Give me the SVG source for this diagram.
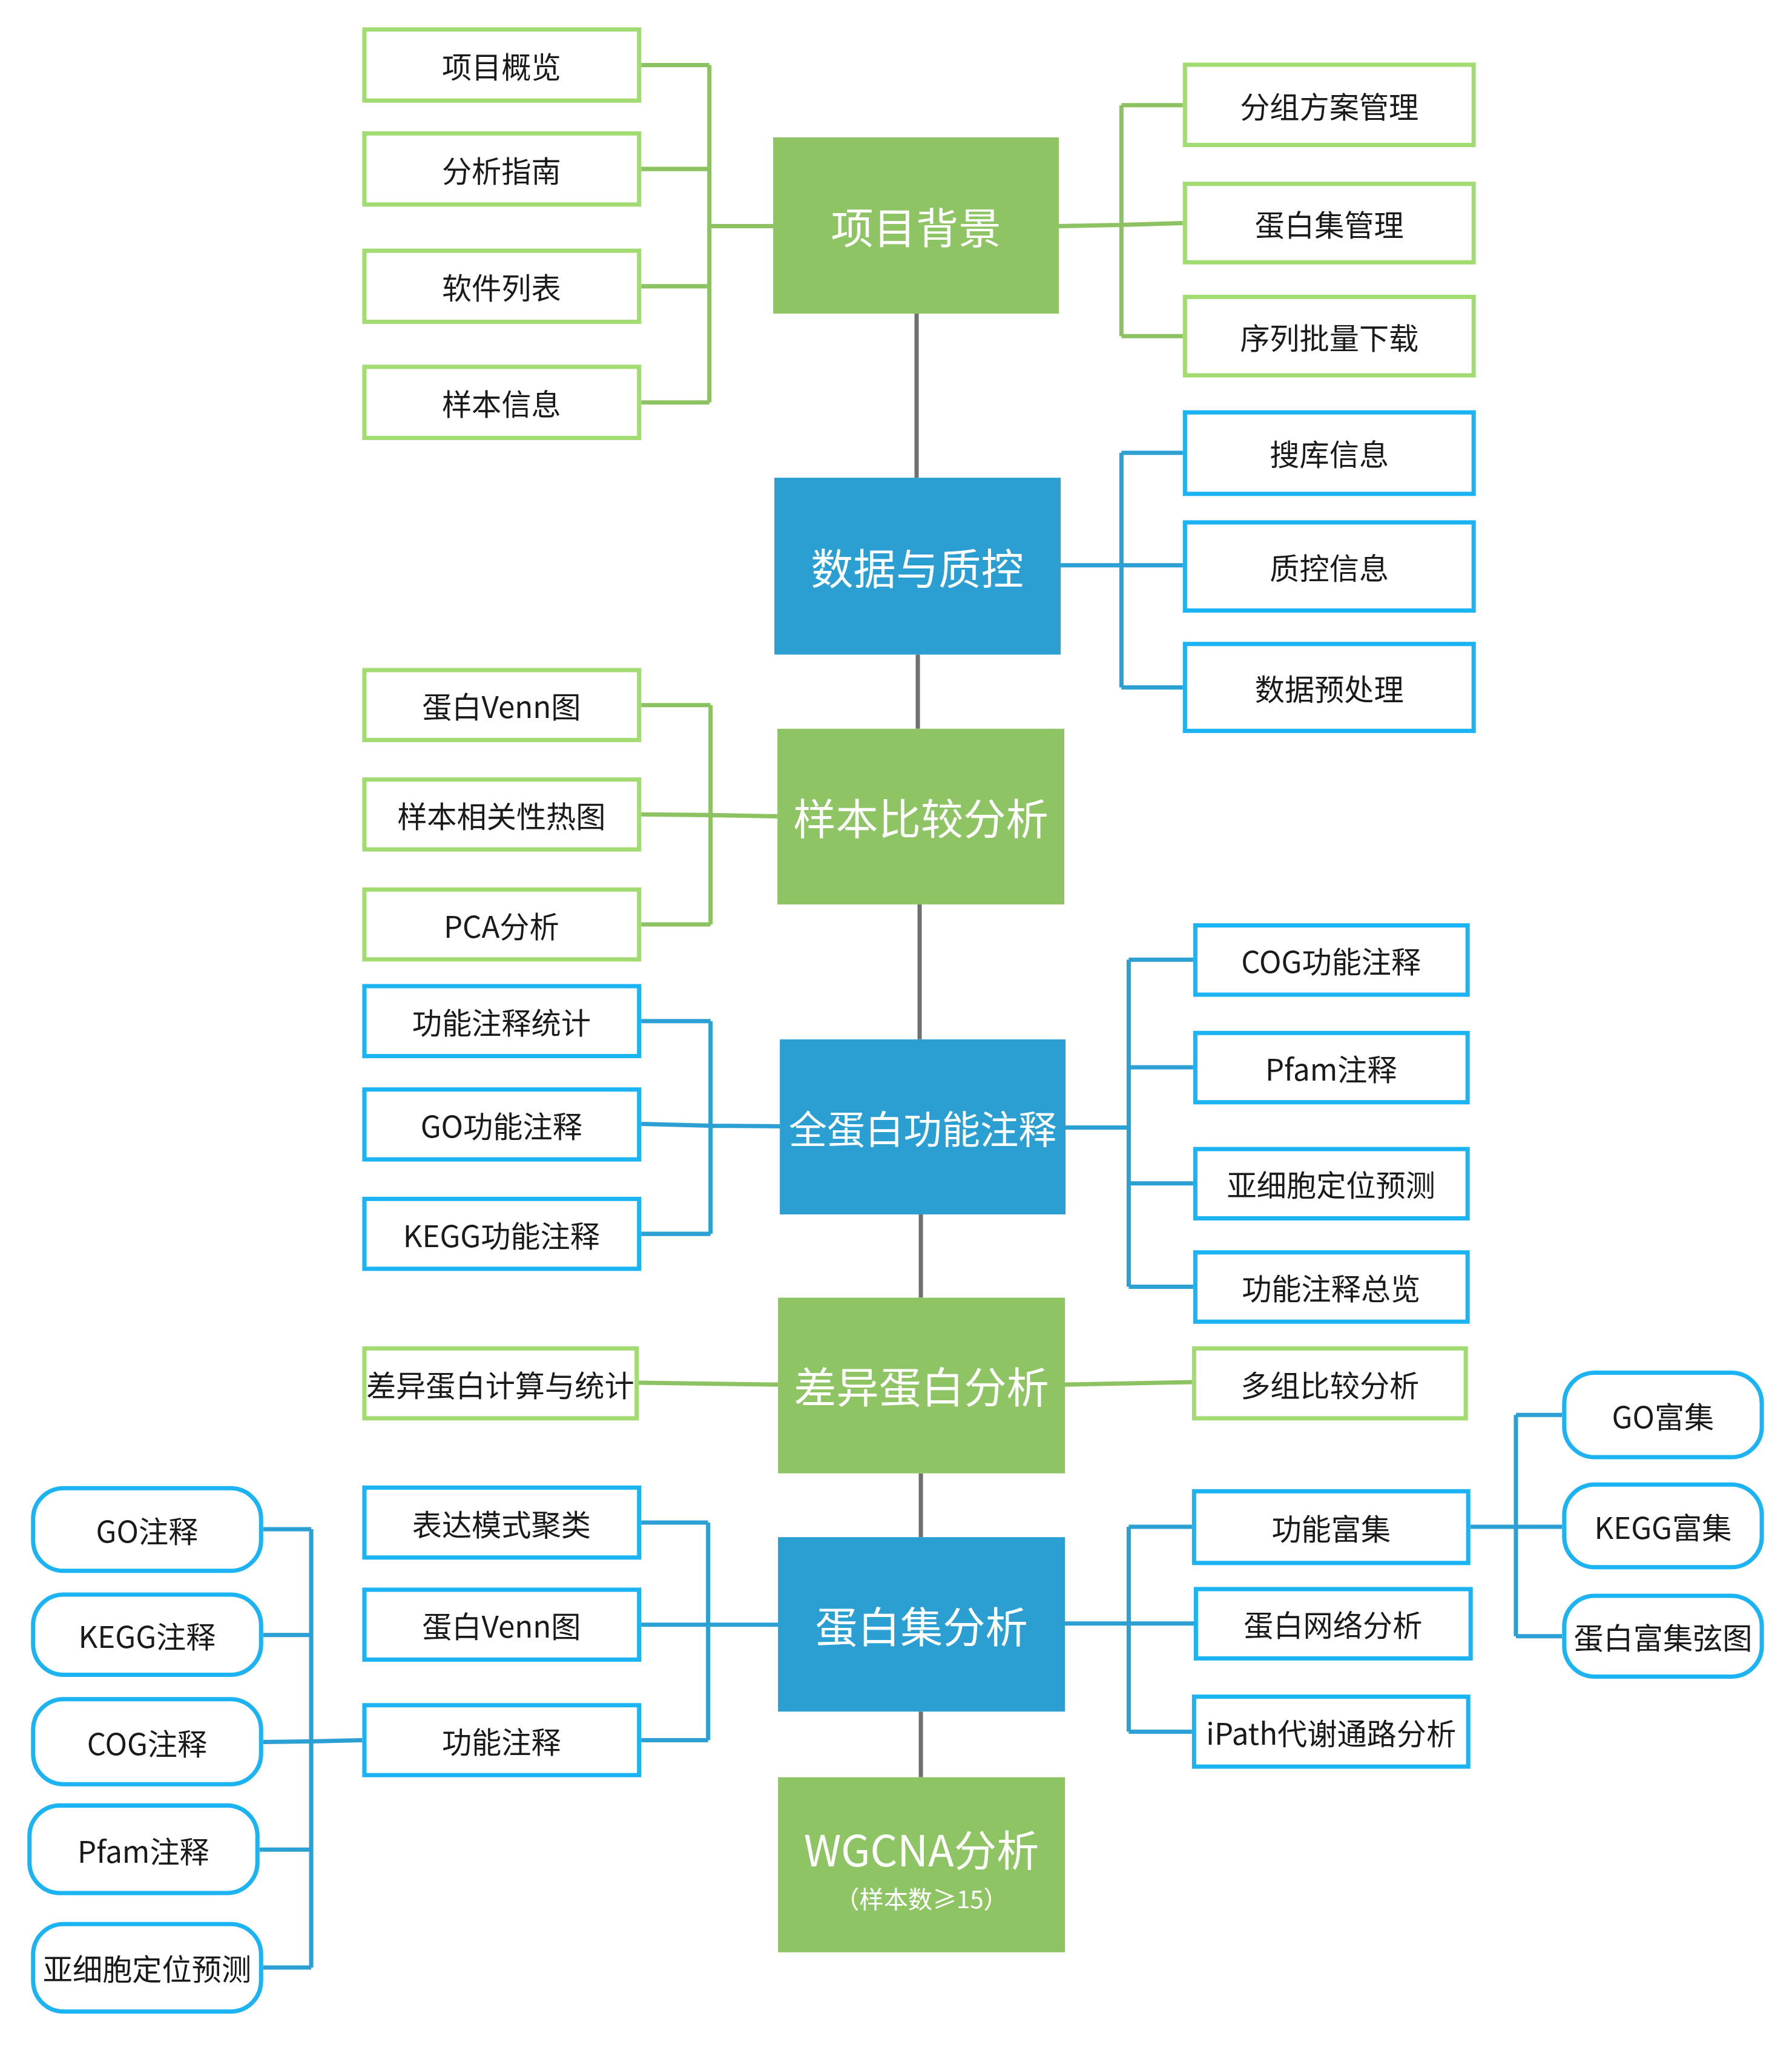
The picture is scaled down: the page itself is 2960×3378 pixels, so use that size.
<svg xmlns="http://www.w3.org/2000/svg" width="2960" height="3378" viewBox="0 0 2960 3378">
<style>
.gm{fill:#8EC463}
.bm{fill:#2B9FD2}
.gl{fill:#fff;stroke:#A3DB73;stroke-width:7}
.bl{fill:#fff;stroke:#1BB3F2;stroke-width:7}
.gc{fill:none;stroke:#8DC262;stroke-width:7}
.bc{fill:none;stroke:#2CA0D3;stroke-width:7}
.kc{fill:none;stroke:#707070;stroke-width:7}
text{font-family:"Noto Sans CJK SC","Noto Sans",sans-serif;text-anchor:middle;dominant-baseline:central}
.lt{font-size:49px;fill:#1a1a1a}
.mt{font-size:70px;fill:#fff}
</style>
<rect width="2960" height="3378" fill="#fff"/>
<g transform="scale(1.004)">
<g id="connectors">
<path class="kc" d="M1508 516V786M1510 1077V1199M1513 1488V1710M1515 1998V2135M1515 2424V2529M1515 2816V2924"/>
<path class="gc" d="M1055 107H1167M1055 278H1167M1055 471H1167M1055 662H1167M1167 107V662M1167 372H1274"/>
<path class="gc" d="M1742 372L1845 370L1946 367M1845 173V553M1845 173H1946M1845 553H1946"/>
<path class="bc" d="M1745 930H1946M1845 745V1131M1845 745H1946M1845 1131H1946"/>
<path class="gc" d="M1055 1160H1169M1055 1340L1169 1341L1279 1343M1055 1521H1169M1169 1160V1521"/>
<path class="bc" d="M1055 1849L1169 1852L1283 1853M1055 1680H1169M1055 2030H1169M1169 1680V2030"/>
<path class="bc" d="M1753 1855H1857M1857 1579V2117M1857 1579H1963M1857 1756H1963M1857 1947H1963M1857 2117H1963"/>
<path class="gc" d="M1051 2275L1280 2278M1752 2278L1961 2274"/>
<path class="bc" d="M1055 2505H1165M1055 2673H1280M1055 2863H1165M1165 2505V2863"/>
<path class="bc" d="M433 2516H512M433 2690H512M433 2866L512 2865L596 2863M427 3043H512M433 3237H512M512 2516V3237"/>
<path class="bc" d="M1752 2671H1967M1857 2512V2849M1857 2512H1961M1857 2849H1961"/>
<path class="bc" d="M2419 2512H2570M2494 2328V2692M2494 2328H2570M2494 2692H2570"/>
</g>
<g id="n-xmbj"><rect class="gm" x="1272" y="226" width="470" height="290"/><text class="mt" x="1507" y="371">项目背景</text></g>
<g id="n-sjzk"><rect class="bm" x="1274" y="786" width="471" height="291"/><text class="mt" x="1509" y="931">数据与质控</text></g>
<g id="n-ybbj"><rect class="gm" x="1279" y="1199" width="472" height="289"/><text class="mt" x="1515" y="1343">样本比较分析</text></g>
<g id="n-qdb"><rect class="bm" x="1283" y="1710" width="470" height="288"/><text class="mt" x="1518" y="1854" style="font-size:63px">全蛋白功能注释</text></g>
<g id="n-cy"><rect class="gm" x="1280" y="2135" width="472" height="289"/><text class="mt" x="1516" y="2278">差异蛋白分析</text></g>
<g id="n-dbj"><rect class="bm" x="1280" y="2529" width="472" height="287"/><text class="mt" x="1516" y="2672">蛋白集分析</text></g>
<g id="n-wgcna"><rect class="gm" x="1280" y="2924" width="472" height="288"/><text class="mt" x="1516" y="3040">WGCNA分析</text><text x="1516" y="3122" style="font-size:40px;fill:#fff">（样本数≥15）</text></g>

<g id="l-xmgl"><rect class="gl" x="599.5" y="48.5" width="452" height="117"/><text class="lt" x="825" y="107">项目概览</text></g>
<g id="l-fxzn"><rect class="gl" x="599.5" y="219.5" width="452" height="117"/><text class="lt" x="825" y="278">分析指南</text></g>
<g id="l-rjlb"><rect class="gl" x="599.5" y="412.5" width="452" height="117"/><text class="lt" x="825" y="471">软件列表</text></g>
<g id="l-ybxx"><rect class="gl" x="599.5" y="603.5" width="452" height="117"/><text class="lt" x="825" y="662">样本信息</text></g>

<g id="l-fzfa"><rect class="gl" x="1949.5" y="106.5" width="475" height="132"/><text class="lt" x="2187" y="173">分组方案管理</text></g>
<g id="l-dbjgl"><rect class="gl" x="1949.5" y="302.5" width="475" height="129"/><text class="lt" x="2187" y="367">蛋白集管理</text></g>
<g id="l-xlpl"><rect class="gl" x="1949.5" y="488.5" width="475" height="129"/><text class="lt" x="2187" y="553">序列批量下载</text></g>

<g id="l-skxx"><rect class="bl" x="1949.5" y="678.5" width="475" height="134"/><text class="lt" x="2187" y="745">搜库信息</text></g>
<g id="l-zkxx"><rect class="bl" x="1949.5" y="859.5" width="475" height="145"/><text class="lt" x="2187" y="932">质控信息</text></g>
<g id="l-sjycl"><rect class="bl" x="1949.5" y="1059.5" width="475" height="143"/><text class="lt" x="2187" y="1131">数据预处理</text></g>

<g id="l-venn1"><rect class="gl" x="599.5" y="1102.5" width="452" height="115"/><text class="lt" x="825" y="1160">蛋白Venn图</text></g>
<g id="l-xgx"><rect class="gl" x="599.5" y="1282.5" width="452" height="115"/><text class="lt" x="825" y="1340">样本相关性热图</text></g>
<g id="l-pca"><rect class="gl" x="599.5" y="1463.5" width="452" height="115"/><text class="lt" x="825" y="1521">PCA分析</text></g>

<g id="l-gntj"><rect class="bl" x="599.5" y="1622.5" width="452" height="115"/><text class="lt" x="825" y="1680">功能注释统计</text></g>
<g id="l-gogn"><rect class="bl" x="599.5" y="1792.5" width="452" height="115"/><text class="lt" x="825" y="1850">GO功能注释</text></g>
<g id="l-kegggn"><rect class="bl" x="599.5" y="1972.5" width="452" height="115"/><text class="lt" x="825" y="2030">KEGG功能注释</text></g>

<g id="l-coggn"><rect class="bl" x="1966.5" y="1522.5" width="448" height="114"/><text class="lt" x="2190" y="1579">COG功能注释</text></g>
<g id="l-pfam1"><rect class="bl" x="1966.5" y="1699.5" width="448" height="114"/><text class="lt" x="2190" y="1756">Pfam注释</text></g>
<g id="l-yxb1"><rect class="bl" x="1966.5" y="1890.5" width="448" height="114"/><text class="lt" x="2190" y="1947">亚细胞定位预测</text></g>
<g id="l-gnzl"><rect class="bl" x="1966.5" y="2060.5" width="448" height="114"/><text class="lt" x="2190" y="2117">功能注释总览</text></g>

<g id="l-cyjs"><rect class="gl" x="599.5" y="2218.5" width="448" height="115"/><text class="lt" x="823" y="2276">差异蛋白计算与统计</text></g>
<g id="l-dzbj"><rect class="gl" x="1964.5" y="2218.5" width="447" height="115"/><text class="lt" x="2188" y="2276">多组比较分析</text></g>

<g id="l-bdms"><rect class="bl" x="599.5" y="2447.5" width="452" height="115"/><text class="lt" x="825" y="2505">表达模式聚类</text></g>
<g id="l-venn2"><rect class="bl" x="599.5" y="2615.5" width="452" height="115"/><text class="lt" x="825" y="2673">蛋白Venn图</text></g>
<g id="l-gnzs"><rect class="bl" x="599.5" y="2805.5" width="452" height="115"/><text class="lt" x="825" y="2863">功能注释</text></g>

<g id="r-go"><rect class="bl" x="54.5" y="2448.5" width="375" height="136" rx="50"/><text class="lt" x="242" y="2516">GO注释</text></g>
<g id="r-kegg"><rect class="bl" x="54.5" y="2623.5" width="375" height="132" rx="50"/><text class="lt" x="242" y="2690">KEGG注释</text></g>
<g id="r-cog"><rect class="bl" x="54.5" y="2795.5" width="375" height="140" rx="50"/><text class="lt" x="242" y="2866">COG注释</text></g>
<g id="r-pfam"><rect class="bl" x="48.5" y="2970.5" width="375" height="144" rx="50"/><text class="lt" x="236" y="3043">Pfam注释</text></g>
<g id="r-yxb"><rect class="bl" x="54.5" y="3165.5" width="375" height="144" rx="50"/><text class="lt" x="242" y="3237">亚细胞定位预测</text></g>

<g id="l-gnfj"><rect class="bl" x="1964.5" y="2453.5" width="451" height="118"/><text class="lt" x="2190" y="2512">功能富集</text></g>
<g id="l-wlfx"><rect class="bl" x="1967.5" y="2614.5" width="452" height="114"/><text class="lt" x="2193" y="2671">蛋白网络分析</text></g>
<g id="l-ipath"><rect class="bl" x="1964.5" y="2791.5" width="451" height="115"/><text class="lt" x="2190" y="2849">iPath代谢通路分析</text></g>

<g id="r-gofj"><rect class="bl" x="2573.5" y="2258.5" width="325" height="139" rx="50"/><text class="lt" x="2736" y="2328">GO富集</text></g>
<g id="r-keggfj"><rect class="bl" x="2573.5" y="2442.5" width="325" height="136" rx="50"/><text class="lt" x="2736" y="2510">KEGG富集</text></g>
<g id="r-xxt"><rect class="bl" x="2573.5" y="2625.5" width="325" height="133" rx="50"/><text class="lt" x="2736" y="2692">蛋白富集弦图</text></g>
</g>
</svg>
